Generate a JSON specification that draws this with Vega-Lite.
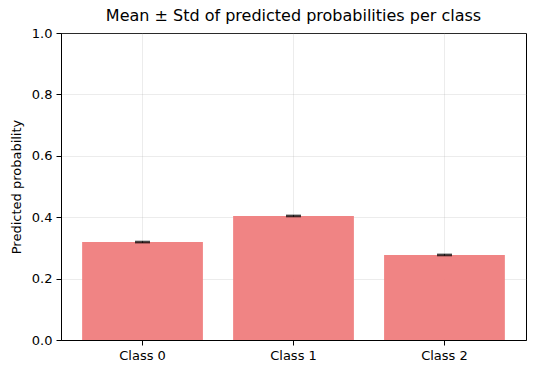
{
  "$schema": "https://vega.github.io/schema/vega-lite/v6.json",
  "width": 465,
  "height": 307,
  "autosize": {"type": "none"},
  "padding": {"left": 61, "top": 33, "right": 10, "bottom": 34},
  "background": "white",
  "title": {
    "text": "Mean ± Std of predicted probabilities per class",
    "font": "DejaVu Sans",
    "fontSize": 16,
    "fontWeight": "normal",
    "color": "black",
    "anchor": "middle",
    "offset": 3
  },
  "config": {
    "view": {"stroke": "black", "strokeWidth": 1},
    "axis": {
      "labelFont": "DejaVu Sans",
      "labelFontSize": 13,
      "labelColor": "black",
      "titleFont": "DejaVu Sans",
      "titleFontSize": 13,
      "titleFontWeight": "normal",
      "titleColor": "black",
      "domainColor": "black",
      "tickColor": "black",
      "tickSize": 5,
      "labelPadding": 4,
      "gridColor": "#b0b0b0",
      "gridOpacity": 0.3,
      "gridWidth": 0.8
    }
  },
  "data": {
    "values": [
      {"cls": "Class 0", "mean": 0.319, "std": 0.002},
      {"cls": "Class 1", "mean": 0.404, "std": 0.002},
      {"cls": "Class 2", "mean": 0.277, "std": 0.002}
    ]
  },
  "layer": [
    {
      "mark": {"type": "bar", "color": "#f08080", "opacity": 0.97},
      "encoding": {
        "x": {
          "field": "cls",
          "type": "nominal",
          "sort": null,
          "title": null,
          "scale": {"paddingInner": 0.2, "paddingOuter": 0.14},
          "axis": {"labelAngle": 0, "grid": true}
        },
        "y": {
          "field": "mean",
          "type": "quantitative",
          "title": "Predicted probability",
          "scale": {"domain": [0, 1], "nice": false},
          "axis": {"values": [0, 0.2, 0.4, 0.6, 0.8, 1.0], "format": ".1f", "grid": true, "titlePadding": 8}
        }
      }
    },
    {
      "mark": {"type": "errorbar", "ticks": {"size": 15, "thickness": 1.5, "color": "black"}, "rule": {"color": "black", "strokeWidth": 1}},
      "encoding": {
        "x": {"field": "cls", "type": "nominal", "sort": null},
        "y": {"field": "mean", "type": "quantitative", "title": "Predicted probability"},
        "yError": {"field": "std"}
      }
    }
  ]
}
